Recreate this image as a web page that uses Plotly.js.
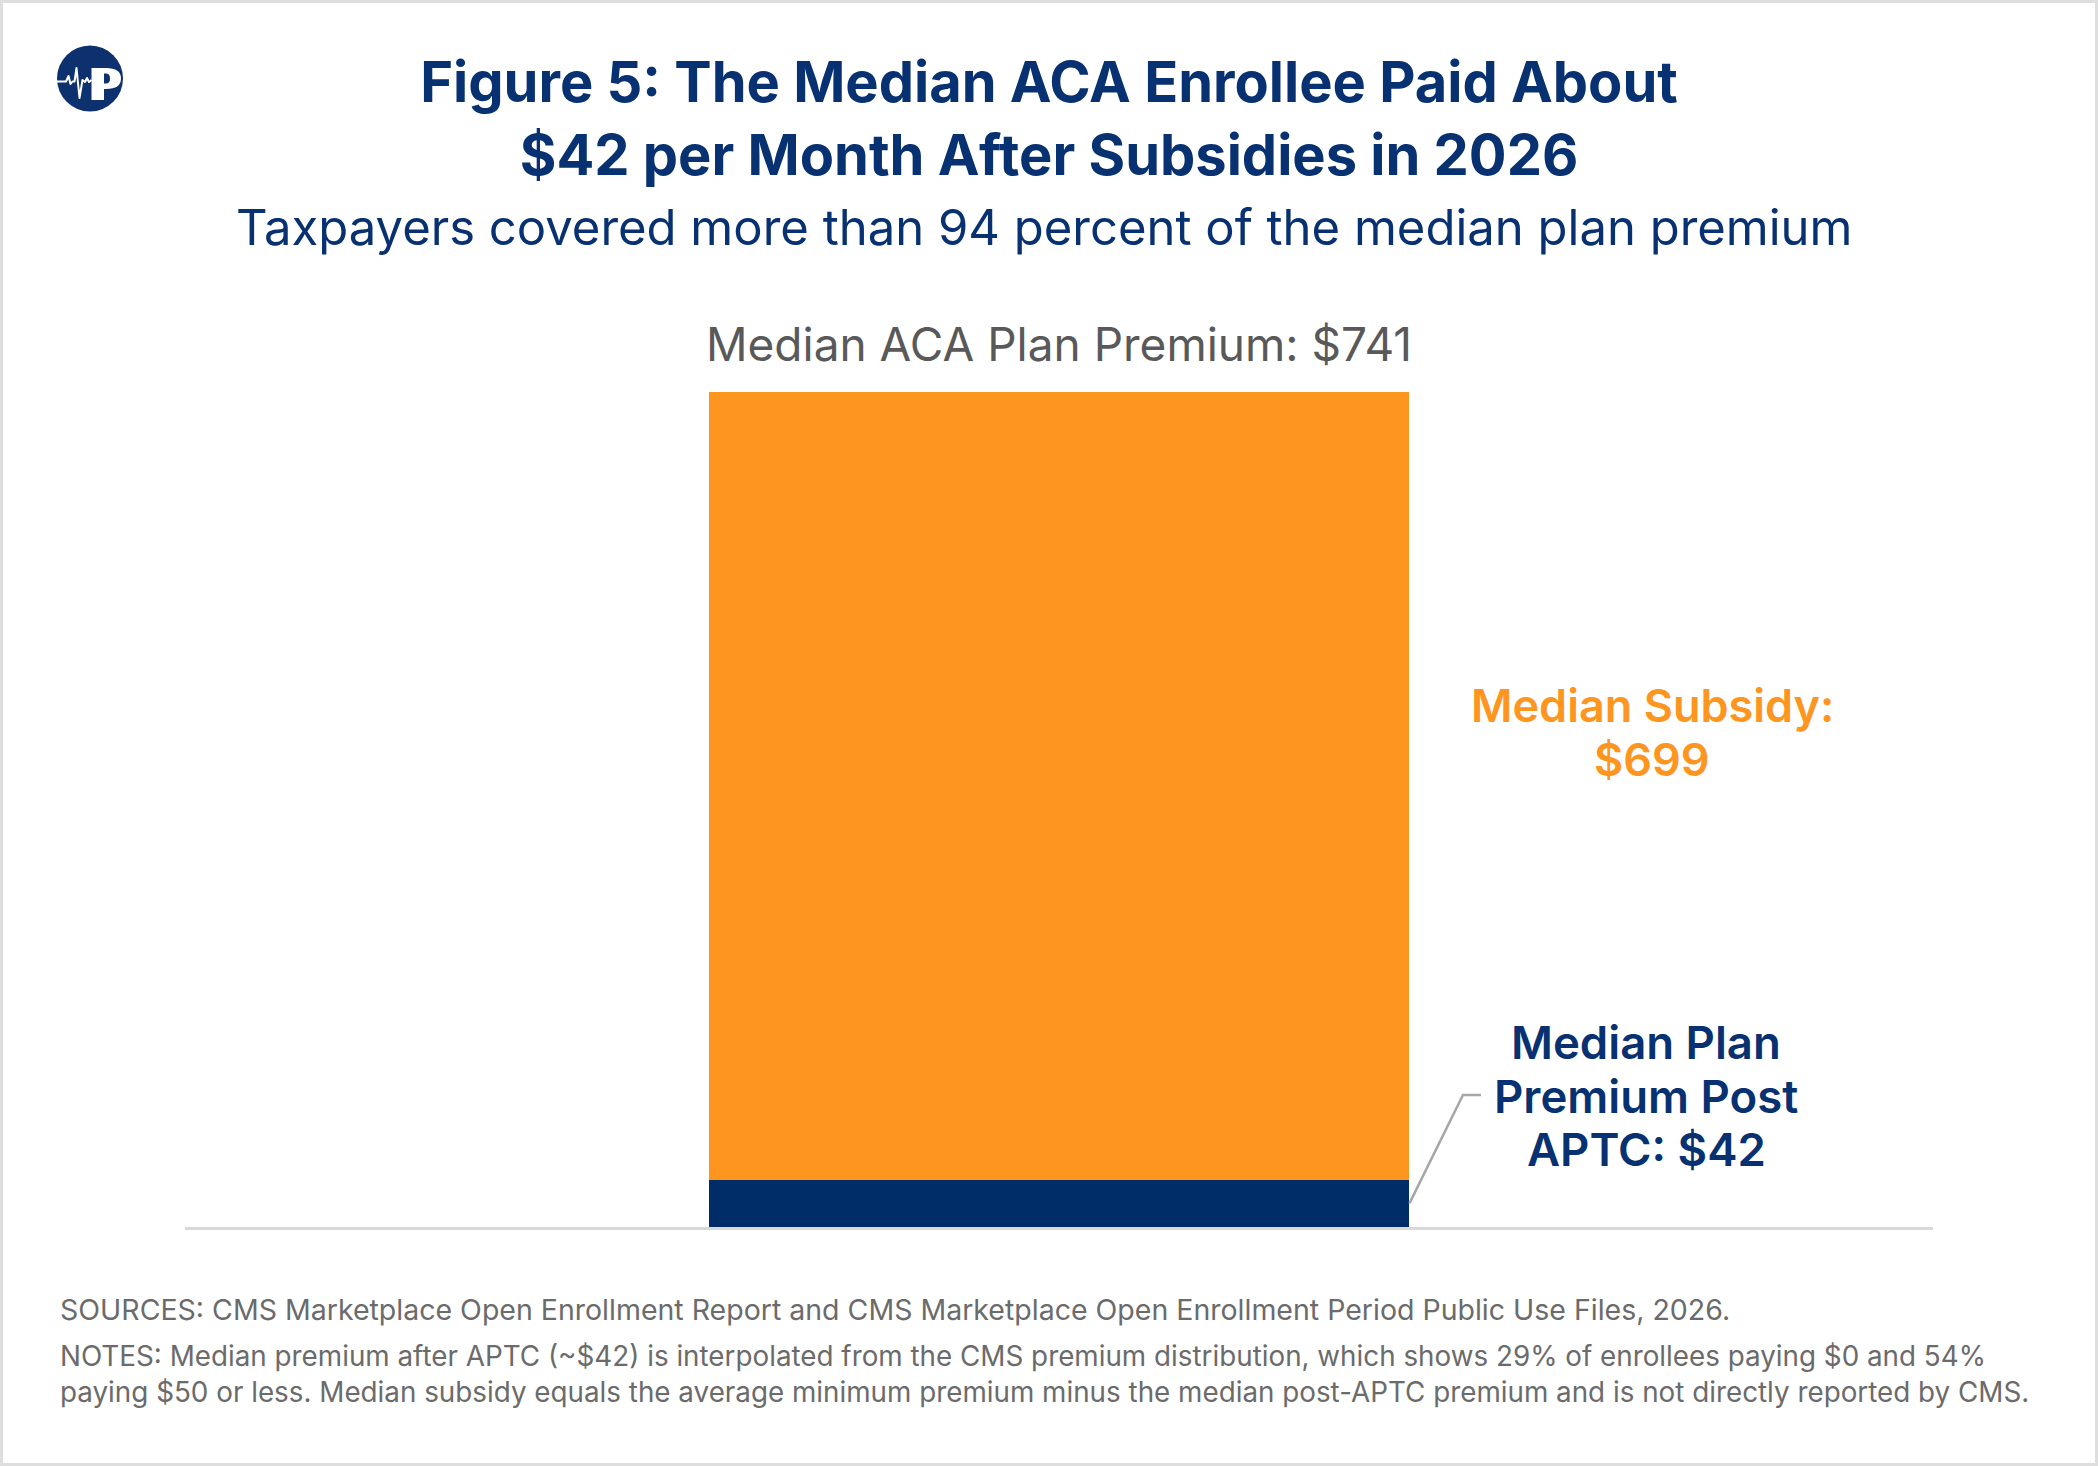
<!DOCTYPE html>
<html>
<head>
<meta charset="utf-8">
<script src="https://cdn.plot.ly/plotly-3.0.1.min.js"></script>
<style>
  html, body { margin: 0; padding: 0; background: #ffffff; }
  #wrap { position: relative; width: 2098px; height: 1466px; overflow: hidden; }
  #chart { position: absolute; left: 0; top: 0; width: 2098px; height: 1466px; }
  #frame { position: absolute; left: 0; top: 0; width: 2098px; height: 1466px;
           box-sizing: border-box; border: 3px solid #dedede; pointer-events: none; }
  #logo { position: absolute; left: 0; top: 0; pointer-events: none; }
</style>
</head>
<body>
<div id="wrap">
  <div id="chart"></div>
  <svg id="logo" width="160" height="140" viewBox="0 0 160 140">
    <circle cx="90" cy="78.5" r="33" fill="#0c316e"/>
    <path fill="#ffffff" fill-rule="evenodd"
          d="M91.5 68 L106 68 Q121 68 121 78.5 Q121 89 106 89 L104 89 L104 100 L91.5 100 Z
             M104 73.5 L106 73.5 Q110 73.5 110 78.5 Q110 83.5 106 83.5 L104 83.5 Z"/>
    <polyline fill="none" stroke="#ffffff" stroke-width="2" stroke-linejoin="round"
              points="57,81.5 66,81.5 68.5,76 70.5,84 72.5,81.5 74.5,81.5 76.5,68 79.5,98 82.5,80 85,82 87,78 89,82 91.5,80"/>
  </svg>
  <div id="frame"></div>
</div>
<script>
// Monthly amounts for the median ACA marketplace enrollee, 2026
const categories = ['Median enrollee'];
const postAptcPremium = [42];   // what the enrollee pays after the premium tax credit
const medianSubsidy = [699];    // advance premium tax credit (APTC)
const seriesNames = ['Median Plan Premium Post APTC', 'Median Subsidy'];

const totalPremium = postAptcPremium[0] + medianSubsidy[0];

const NAVY = '#002d68';
const ORANGE = '#fe951e';
const TITLE_NAVY = '#073170';
const FONT = 'Inter, "Noto Sans", sans-serif';
const barWidth = 0.401;

const traces = [
  {
    type: 'bar', name: seriesNames[0], x: categories, y: postAptcPremium,
    width: barWidth, marker: { color: NAVY, line: { width: 0 } },
    hoverinfo: 'skip'
  },
  {
    type: 'bar', name: seriesNames[1], x: categories, y: medianSubsidy,
    width: barWidth, marker: { color: ORANGE, line: { width: 0 } },
    hoverinfo: 'skip'
  }
];

// callout from the middle of the navy segment out to its label
const barEdge = 0.5 + barWidth / 2;
const calloutY = (postAptcPremium[0] / 2) / totalPremium;
const calloutPath = 'M ' + barEdge + ' ' + calloutY +
  ' L 0.7311 0.158 L 0.7414 0.158';

// multi-line side labels, one annotation per line for a tighter leading
function stackedLabel(lines, x, y, leading, font) {
  const mid = (lines.length - 1) / 2;
  return lines.map((line, i) => ({
    text: line, xref: 'paper', yref: 'paper', x: x, y: y,
    yshift: (mid - i) * leading,
    xanchor: 'center', yanchor: 'middle', align: 'center', showarrow: false,
    font: font
  }));
}

const subsidyLabel = stackedLabel(
  ['Median Subsidy:', '$' + medianSubsidy[0]],
  (1652 - 185) / 1748, (1227 - 732) / 835, 54,
  { family: FONT, size: 45, color: ORANGE, weight: 600 }
);
const postAptcLabel = stackedLabel(
  ['Median Plan', 'Premium Post', 'APTC: $' + postAptcPremium[0]],
  (1646 - 185) / 1748, (1227 - 1096) / 835, 53.5,
  { family: FONT, size: 45.5, color: TITLE_NAVY, weight: 600 }
);

const layout = {
  width: 2098, height: 1466,
  margin: { l: 185, r: 165, t: 392, b: 239 },
  paper_bgcolor: '#ffffff', plot_bgcolor: '#ffffff',
  barmode: 'stack', showlegend: false, hovermode: false,
  font: { family: FONT, color: TITLE_NAVY },
  title: {
    text: 'Figure 5: The Median ACA Enrollee Paid About<br>$42 per Month After Subsidies in 2026',
    font: { family: FONT, size: 56, color: TITLE_NAVY, weight: 700 },
    x: 0.5, xref: 'container', xanchor: 'center',
    y: 1 - 102 / 1466, yref: 'container', yanchor: 'middle'
  },
  xaxis: {
    type: 'category', range: [-0.5, 0.5],
    showline: true, linecolor: '#d9d9d9', linewidth: 3,
    showticklabels: false, ticks: '', showgrid: false, zeroline: false, fixedrange: true
  },
  yaxis: { range: [0, totalPremium], visible: false, fixedrange: true },
  shapes: [
    {
      type: 'path', xref: 'paper', yref: 'paper', path: calloutPath,
      line: { color: '#a6a6a6', width: 2.5 }
    }
  ],
  annotations: [
    {
      text: 'Taxpayers covered more than 94 percent of the median plan premium',
      xref: 'paper', yref: 'paper', x: (1044 - 185) / 1748, y: (1227 - 227) / 835,
      xanchor: 'center', yanchor: 'middle', showarrow: false,
      font: { family: FONT, size: 49, color: TITLE_NAVY, weight: 400 }
    },
    {
      text: 'Median ACA Plan Premium: $' + totalPremium,
      xref: 'x', yref: 'y', x: categories[0], y: totalPremium,
      xanchor: 'center', yanchor: 'middle', yshift: 48, showarrow: false,
      font: { family: FONT, size: 46, color: '#595959', weight: 400 }
    },
    ...subsidyLabel,
    ...postAptcLabel,
    {
      text: 'SOURCES: CMS Marketplace Open Enrollment Report and CMS Marketplace Open Enrollment Period Public Use Files, 2026.',
      xref: 'paper', yref: 'paper', x: (58 - 185) / 1748, y: (1227 - 1309) / 835,
      xanchor: 'left', yanchor: 'middle', align: 'left', showarrow: false,
      font: { family: FONT, size: 28.5, color: '#6b6b6b' }
    },
    {
      text: 'NOTES: Median premium after APTC (~$42) is interpolated from the CMS premium distribution, which shows 29% of enrollees paying $0 and 54%<br>paying $50 or less. Median subsidy equals the average minimum premium minus the median post-APTC premium and is not directly reported by CMS.',
      xref: 'paper', yref: 'paper', x: (58 - 185) / 1748, y: (1227 - 1373.5) / 835,
      xanchor: 'left', yanchor: 'middle', align: 'left', showarrow: false,
      font: { family: FONT, size: 27.8, color: '#6b6b6b' }
    }
  ]
};

Plotly.newPlot('chart', traces, layout, { staticPlot: true, displayModeBar: false });
</script>
</body>
</html>
